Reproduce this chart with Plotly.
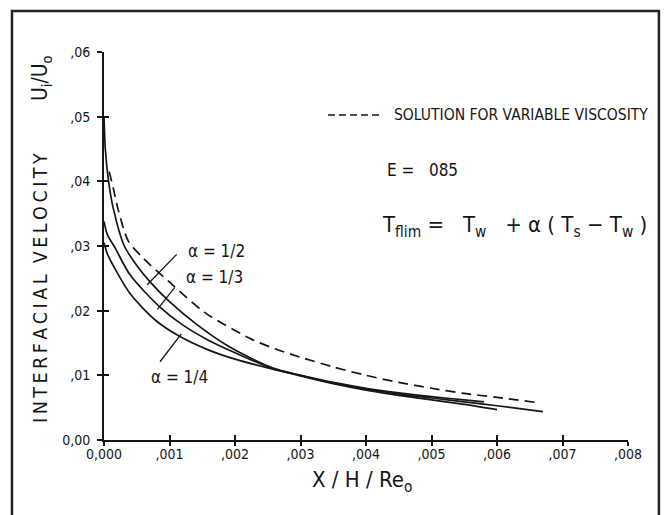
import plotly.graph_objects as go

# ---------------- data ----------------
x_var = [0.00008, 0.00014, 0.00022, 0.00037, 0.0006, 0.00098, 0.00154, 0.00225, 0.00261,
         0.003, 0.0035, 0.004, 0.0045, 0.005, 0.0055, 0.006, 0.0066]
y_var = [0.0415, 0.0390, 0.0355, 0.0308, 0.0281, 0.0246, 0.0197, 0.0156, 0.0141,
         0.0128, 0.0113, 0.0100, 0.0089, 0.0080, 0.0072, 0.0066, 0.0058]

x_a2 = [0, 0.00002, 0.00007, 0.00014, 0.00031, 0.0005, 0.0007, 0.001, 0.0014, 0.0019,
        0.00256, 0.003, 0.0035, 0.004, 0.0045, 0.005, 0.0055, 0.006, 0.0067]
y_a2 = [0.050, 0.045, 0.040, 0.0359, 0.0300, 0.0270, 0.0245, 0.0214, 0.0180, 0.0145,
        0.0112, 0.0100, 0.0088, 0.0079, 0.0071, 0.0065, 0.0059, 0.0053, 0.0044]

x_a3 = [0, 0.00005, 0.00017, 0.0004, 0.00085, 0.0012, 0.0016, 0.002, 0.00256, 0.003,
        0.0035, 0.004, 0.0045, 0.005, 0.0055, 0.006]
y_a3 = [0.0338, 0.0318, 0.0297, 0.0255, 0.0206, 0.0178, 0.0154, 0.0135, 0.0111, 0.0099,
        0.0087, 0.0077, 0.0069, 0.0062, 0.0055, 0.0047]

x_a4 = [0, 0.00005, 0.00015, 0.0004, 0.0008, 0.00116, 0.0016, 0.002, 0.00256, 0.003,
        0.0035, 0.004, 0.0045, 0.005, 0.0055, 0.0058]
y_a4 = [0.0305, 0.0288, 0.0268, 0.0226, 0.0184, 0.0160, 0.0139, 0.0125, 0.0110, 0.0100,
        0.0089, 0.0080, 0.0073, 0.0067, 0.0062, 0.0059]

x_tickvals = [0, 0.001, 0.002, 0.003, 0.004, 0.005, 0.006, 0.007, 0.008]
x_ticktext = ["0,000", ",001", ",002", ",003", ",004", ",005", ",006", ",007", ",008"]
y_tickvals = [0, 0.01, 0.02, 0.03, 0.04, 0.05, 0.06]
y_ticktext = ["0,00", ",01", ",02", ",03", ",04", ",05", ",06"]

labels = ["α = 1/2", "α = 1/3", "α = 1/4"]
label_x = [0.00171, 0.00169, 0.00116]
label_y = [0.0292, 0.0252, 0.0097]
pointer_from = [(0.00111, 0.0287), (0.00108, 0.0236), (0.000855, 0.0121)]
pointer_to = [(0.000660, 0.0240), (0.000815, 0.0202), (0.00118, 0.0164)]

FONT = "DejaVu Sans Condensed, Liberation Sans Narrow, DejaVu Sans, sans-serif"
INK = "#161616"
THIN = "\u2009"

y_title = THIN.join("INTERFACIAL") + "  " + THIN.join("VELOCITY")

fig = go.Figure()
lw = 1.7
fig.add_trace(go.Scatter(x=x_var, y=y_var, mode="lines",
                         line=dict(color=INK, width=lw, dash="10px,6px", shape="spline", smoothing=0.8)))
for xs, ys in [(x_a2, y_a2), (x_a3, y_a3), (x_a4, y_a4)]:
    fig.add_trace(go.Scatter(x=xs, y=ys, mode="lines",
                             line=dict(color=INK, width=lw, shape="spline", smoothing=0.8)))
# dummy traces for the overlay (tick-mark) axes
fig.add_trace(go.Scatter(x=[None], y=[None], xaxis="x2", yaxis="y2", mode="lines"))
fig.add_trace(go.Scatter(x=[None], y=[None], xaxis="x3", yaxis="y2", mode="lines"))

annotations = []
for t, lx, ly in zip(labels, label_x, label_y):
    annotations.append(dict(x=lx, y=ly, xref="x", yref="y", text=t, showarrow=False,
                            xanchor="center", yanchor="middle",
                            font=dict(family=FONT, size=17, color=INK)))

shapes = []
for (x0, y0), (x1, y1) in zip(pointer_from, pointer_to):
    shapes.append(dict(type="line", xref="x", yref="y", x0=x0, y0=y0, x1=x1, y1=y1,
                       line=dict(color=INK, width=1.3)))

# outer frame
shapes.append(dict(type="rect", xref="paper", yref="paper", x0=-0.1756, x1=1.059, y0=-0.35, y1=1.1057,
                   line=dict(color="#222", width=2.5)))
# legend dash sample
shapes.append(dict(type="line", xref="paper", yref="paper", x0=0.4275, x1=0.5305, y0=0.8376, y1=0.8376,
                   line=dict(color=INK, width=1.4, dash="7px,4px")))

annotations += [
    dict(x=0.5496, y=0.8376, xref="paper", yref="paper", xanchor="left", yanchor="middle", showarrow=False,
         text="SOLUTION FOR VARIABLE VISCOSITY", font=dict(family=FONT, size=15.5, color=INK)),
    dict(x=0.536, y=0.696, xref="paper", yref="paper", xanchor="left", yanchor="middle", showarrow=False,
         text="E =   085", font=dict(family=FONT, size=17, color=INK)),
    dict(x=0.527, y=0.549, xref="paper", yref="paper", xanchor="left", yanchor="middle", showarrow=False,
         text="T<sub>flim</sub> =   T<sub>w</sub>   + α ( T<sub>s</sub> − T<sub>w</sub> )",
         font=dict(family=FONT, size=22, color=INK)),
    dict(x=-0.120, y=0.392, xref="paper", yref="paper", xanchor="center", yanchor="middle",
         textangle=-90, showarrow=False,
         text=y_title, font=dict(family=FONT, size=19.5, color=INK)),
    dict(x=-0.120, y=0.933, xref="paper", yref="paper", xanchor="center", yanchor="middle",
         textangle=-90, showarrow=False,
         text="U<sub>i</sub>/U<sub>o</sub>", font=dict(family=FONT, size=21, color=INK)),
    dict(x=0.492, y=-0.108, xref="paper", yref="paper", xanchor="center", yanchor="middle", showarrow=False,
         text="X / H / Re<sub>o</sub>", font=dict(family=FONT, size=22, color=INK)),
]

axis_common = dict(showgrid=False, zeroline=False, showline=True, linecolor=INK, linewidth=2,
                   tickcolor=INK, tickwidth=1.5)
fig.update_layout(
    width=666, height=515, margin=dict(l=104, r=38, t=52, b=75),
    paper_bgcolor="white", plot_bgcolor="white", showlegend=False,
    xaxis=dict(range=[0, 0.008], tickvals=x_tickvals, ticktext=x_ticktext, ticks="",
               tickfont=dict(family=FONT, size=14, color=INK), **axis_common),
    yaxis=dict(range=[0, 0.06], tickvals=y_tickvals, ticktext=y_ticktext, ticks="outside", ticklen=5,
               ticklabelstandoff=4,
               tickfont=dict(family=FONT, size=14, color=INK), **axis_common),
    xaxis2=dict(range=[0, 0.008], tickvals=x_tickvals, ticks="inside", ticklen=5, showticklabels=False,
                overlaying="x", anchor="y", side="bottom", **axis_common),
    xaxis3=dict(range=[0, 0.008], tickvals=x_tickvals, ticks="outside", ticklen=4, showticklabels=False,
                overlaying="x", anchor="y", side="bottom", **axis_common),
    yaxis2=dict(range=[0, 0.06], tickvals=y_tickvals, ticks="inside", ticklen=5, showticklabels=False,
                overlaying="y", anchor="x", side="left", **axis_common),
    annotations=annotations, shapes=shapes,
)
fig.write_html("out.html")
